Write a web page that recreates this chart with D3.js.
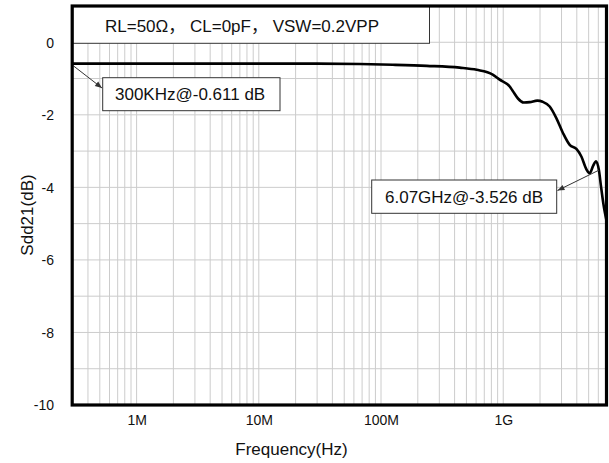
<!DOCTYPE html>
<html>
<head>
<meta charset="utf-8">
<script src="https://cdn.jsdelivr.net/npm/d3@7"></script>
<style>
  html, body { margin: 0; padding: 0; background: #fff; }
  svg { display: block; }
  text { font-family: "Liberation Sans", Arial, "Noto Sans CJK SC", sans-serif; fill: #111; }
</style>
</head>
<body>
<svg id="chart" width="609" height="463"></svg>
<script>
// ---- data ----
const freqHz = [3e5, 1e6, 1e7, 3e7, 6.7e7, 1.25e8, 2.37e8, 4.4e8, 6.07e8, 8.2e8, 9.36e8,
                1.13e9, 1.19e9, 1.32e9, 1.47e9, 1.65e9, 1.9e9, 2.1e9, 2.4e9, 2.72e9, 3.08e9,
                3.5e9, 3.97e9, 4.36e9, 4.79e9, 5.1e9, 5.45e9, 5.75e9, 6.07e9, 6.3e9, 6.6e9, 7.0e9];
const sdd21dB = [-0.59, -0.59, -0.59, -0.59, -0.6, -0.62, -0.65, -0.7, -0.76, -0.89, -1.03,
                 -1.22, -1.33, -1.55, -1.66, -1.65, -1.61, -1.64, -1.77, -2.09, -2.5,
                 -2.83, -2.94, -3.15, -3.5, -3.61, -3.4, -3.28, -3.53, -3.95, -4.45, -4.92];
const xTickValues = [1e6, 1e7, 1e8, 1e9];
const xTickLabels = ["1M", "10M", "100M", "1G"];
const yTickValues = [0, -2, -4, -6, -8, -10];
const yTickLabels = ["0", "-2", "-4", "-6", "-8", "-10"];
const titleText = "RL=50Ω，  CL=0pF，  VSW=0.2VPP";
const annotFreq = [3e5, 6.07e9];
const annotDB = [-0.611, -3.526];
const annotLabels = ["300KHz@-0.611 dB", "6.07GHz@-3.526 dB"];
const xTitle = "Frequency(Hz)";
const yTitle = "Sdd21(dB)";

// ---- layout ----
const svg = d3.select("#chart");
const L = 72.7, R = 606.5, T = 6, B = 405;
const x = d3.scaleLog().domain([3e5, 7e9]).range([L, R]);
const y = d3.scaleLinear().domain([1, -10]).range([T, B]);

// grid: minor vertical lines 1..9 per decade
const vGrid = [];
for (let e = 5; e <= 9; e++) {
  for (let m = 1; m <= 9; m++) {
    const v = m * Math.pow(10, e);
    if (v > 3e5 && v < 7e9) vGrid.push(v);
  }
}
const hGrid = d3.range(0, -10, -1);

const grid = svg.append("g");
grid.selectAll("line.v").data(vGrid).join("line")
  .attr("x1", d => x(d)).attr("x2", d => x(d))
  .attr("y1", T).attr("y2", B)
  .attr("stroke", "#cccccc").attr("stroke-width", 1);
grid.selectAll("line.h").data(hGrid).join("line")
  .attr("x1", L).attr("x2", R)
  .attr("y1", d => y(d)).attr("y2", d => y(d))
  .attr("stroke", "#cccccc").attr("stroke-width", 1);

// axes labels via d3 axes (no tick lines / domain)
const xAxis = d3.axisBottom(x).tickValues(xTickValues)
  .tickFormat((d, i) => xTickLabels[i]).tickSize(0).tickPadding(0);
const gx = svg.append("g").attr("transform", `translate(0,${B})`).call(xAxis);
gx.select(".domain").remove();
gx.selectAll("text").attr("y", 20).attr("dy", 0)
  .style("font-size", "14px").style("font-family", "'Liberation Sans', Arial, sans-serif").attr("fill", "#222");

const yAxis = d3.axisLeft(y).tickValues(yTickValues)
  .tickFormat((d, i) => yTickLabels[i]).tickSize(0).tickPadding(0);
const gy = svg.append("g").attr("transform", `translate(54,0)`).call(yAxis);
gy.select(".domain").remove();
gy.selectAll("text").attr("x", 0).attr("dy", "0.35em")
  .style("font-size", "14px").style("font-family", "'Liberation Sans', Arial, sans-serif").attr("fill", "#222");

// curve
const pts = freqHz.map((f, i) => [f, sdd21dB[i]]);
const line = d3.line().x(d => x(d[0])).y(d => y(d[1])).curve(d3.curveMonotoneX);
svg.append("path").datum(pts).attr("d", line)
  .attr("fill", "none").attr("stroke", "#000").attr("stroke-width", 2.6)
  .attr("stroke-linejoin", "round");

// title box
svg.append("rect").attr("x", L).attr("y", T).attr("width", 429.5 - L).attr("height", 43.3 - T)
  .attr("fill", "#fff").attr("stroke", "#333").attr("stroke-width", 1);
svg.append("text").attr("x", 105).attr("y", 31.5).style("font-size", "17px").text(titleText);

// annotations
svg.append("defs").append("marker").attr("id", "ah").attr("viewBox", "0 0 10 10")
  .attr("refX", 10).attr("refY", 5).attr("markerWidth", 9).attr("markerHeight", 7)
  .attr("markerUnits", "userSpaceOnUse").attr("orient", "auto")
  .append("path").attr("d", "M0,1 L10,5 L0,9 Z").attr("fill", "#333");

const boxes = [
  {x: 102.7, y: 77.7, w: 177.3, h: 33, tx: 115, ty: 100, ax: 102, ay: 88},
  {x: 371.7, y: 180, w: 185, h: 33.3, tx: 385, ty: 202.7, ax: 557.5, ay: 190.5}
];
boxes.forEach((b, i) => {
  svg.append("line")
    .attr("x1", i === 0 ? x(annotFreq[i]) + 0.8 : x(annotFreq[i])).attr("y1", y(annotDB[i]) + (i === 0 ? 1.5 : 0))
    .attr("x2", b.ax).attr("y2", b.ay)
    .attr("stroke", "#333").attr("stroke-width", 1).attr("marker-end", "url(#ah)");
  svg.append("rect").attr("x", b.x).attr("y", b.y).attr("width", b.w).attr("height", b.h)
    .attr("fill", "#fff").attr("stroke", "#333").attr("stroke-width", 1);
  svg.append("text").attr("x", b.tx).attr("y", b.ty).style("font-size", "17px").text(annotLabels[i]);
});

// frame
svg.append("rect").attr("x", L - 0.5).attr("y", T).attr("width", R - L + 0.5).attr("height", B - T)
  .attr("fill", "none").attr("stroke", "#000").attr("stroke-width", 3.2);

// axis titles
svg.append("text").attr("x", 291.5).attr("y", 455).attr("text-anchor", "middle")
  .style("font-size", "17px").text(xTitle);
svg.append("text").attr("transform", "translate(33,215) rotate(-90)").attr("text-anchor", "middle")
  .style("font-size", "17px").text(yTitle);
</script>
</body>
</html>
